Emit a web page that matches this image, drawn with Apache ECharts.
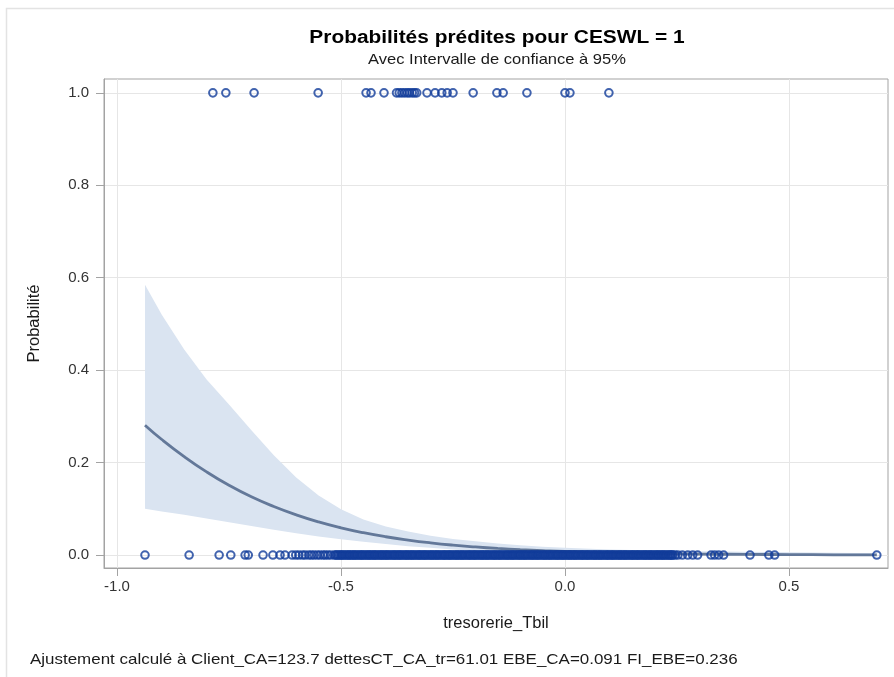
<!DOCTYPE html>
<html>
<head>
<meta charset="utf-8">
<script src="https://cdn.jsdelivr.net/npm/echarts@6/dist/echarts.min.js"></script>
<style>html,body{margin:0;padding:0;background:#fff}#c{width:894px;height:677px}</style>
</head>
<body>
<div id="c"></div>
<script>
// ---- data ----
const xTicks = [-1.0, -0.5, 0.0, 0.5];
const yTicks = [0.0, 0.2, 0.4, 0.6, 0.8, 1.0];

// observations with CESWL = 1 (plotted at probability 1)
const obsOne = [-0.786, -0.757, -0.694, -0.551, -0.444, -0.433, -0.404, -0.376, -0.370, -0.364, -0.358,
  -0.352, -0.347, -0.341, -0.336, -0.331, -0.308, -0.290, -0.275, -0.263, -0.250, -0.205, -0.152,
  -0.138, -0.085, 0.000, 0.011, 0.098];

// observations with CESWL = 0 (plotted at probability 0)
const obsZero = [-0.9375, -0.839, -0.772, -0.746, -0.714, -0.707, -0.674, -0.652, -0.636, -0.625,
  -0.609, -0.601, -0.594, -0.586, -0.580, -0.572, -0.566, -0.560, -0.553, -0.547, -0.540, -0.535,
  -0.529, -0.523, -0.515, -0.509, -0.503, -0.498, -0.492, -0.486, -0.481, -0.475, -0.470, -0.464,
  -0.458, -0.453, -0.447, -0.441, -0.436, -0.430, -0.425, -0.419, -0.413, -0.408, -0.402, -0.397,
  -0.391, -0.385, -0.380, -0.374, -0.369, -0.363, -0.357, -0.352, -0.346, -0.341, -0.335, -0.329,
  -0.324, -0.318, -0.313, -0.307, -0.301, -0.296, -0.290, -0.285, -0.279, -0.273, -0.268, -0.262,
  -0.257, -0.251, -0.245, -0.240, -0.234, -0.229, -0.223, -0.217, -0.212, -0.206, -0.201, -0.195,
  -0.189, -0.184, -0.178, -0.173, -0.167, -0.161, -0.156, -0.150, -0.145, -0.139, -0.133, -0.128,
  -0.122, -0.117, -0.111, -0.105, -0.100, -0.094, -0.089, -0.083, -0.077, -0.072, -0.066, -0.061,
  -0.055, -0.049, -0.044, -0.038, -0.033, -0.027, -0.021, -0.016, -0.010, -0.005, 0.001, 0.007,
  0.012, 0.018, 0.023, 0.029, 0.035, 0.040, 0.046, 0.051, 0.057, 0.063, 0.068, 0.074, 0.079, 0.085,
  0.091, 0.096, 0.102, 0.107, 0.113, 0.119, 0.124, 0.130, 0.135, 0.141, 0.147, 0.152, 0.158, 0.163,
  0.169, 0.175, 0.180, 0.186, 0.191, 0.197, 0.203, 0.208, 0.214, 0.219, 0.225, 0.231, 0.236, 0.241,
  0.246, 0.252, 0.262, 0.274, 0.285, 0.296, 0.326, 0.334, 0.343, 0.354, 0.413, 0.455, 0.468, 0.696,
  -0.512, -0.506, -0.500, -0.495, -0.489, -0.483, -0.478, -0.472, -0.467, -0.461, -0.455, -0.450,
  -0.444, -0.438, -0.433, -0.427, -0.422, -0.416, -0.410, -0.405, -0.399, -0.394, -0.388, -0.382,
  -0.377, -0.371, -0.366, -0.360, -0.354, -0.349, -0.343, -0.338, -0.332, -0.326, -0.321, -0.315,
  -0.310, -0.304, -0.298, -0.293, -0.287, -0.282, -0.276, -0.270, -0.265, -0.259, -0.254, -0.248,
  -0.242, -0.237, -0.231, -0.226, -0.220, -0.214, -0.209, -0.203, -0.198, -0.192, -0.186, -0.181,
  -0.175, -0.170, -0.164, -0.158, -0.153, -0.147, -0.142, -0.136, -0.130, -0.125, -0.119, -0.114,
  -0.108, -0.102, -0.097, -0.091, -0.086, -0.080, -0.074, -0.069, -0.063, -0.058, -0.052, -0.046,
  -0.041, -0.035, -0.030, -0.024, -0.018, -0.013, -0.007, -0.002, 0.004, 0.010, 0.015, 0.021,
  0.026, 0.032, 0.038, 0.043, 0.049, 0.054, 0.060, 0.066, 0.071, 0.077, 0.082, 0.088, 0.094, 0.099,
  0.105, 0.110, 0.116, 0.122, 0.127, 0.133, 0.138, 0.144, 0.150, 0.155, 0.161, 0.166, 0.172, 0.178,
  0.183, 0.189, 0.194, 0.200, 0.206, 0.211, 0.217, 0.222, 0.228, 0.234, 0.239];

// predicted probability curve and 95% confidence limits
const fitX  = [-0.9375, -0.9, -0.85, -0.8, -0.75, -0.7, -0.65, -0.6, -0.55, -0.5, -0.45, -0.4, -0.35,
  -0.3, -0.25, -0.2, -0.15, -0.1, -0.05, 0.0, 0.1, 0.2, 0.3, 0.4, 0.5, 0.6, 0.696];
const fitP  = [0.281, 0.250, 0.213, 0.180, 0.151, 0.126, 0.105, 0.087, 0.0717, 0.059, 0.0484, 0.0396,
  0.0324, 0.0264, 0.0215, 0.0176, 0.0143, 0.0116, 0.0095, 0.0077, 0.0051, 0.0034, 0.0022, 0.0015,
  0.0010, 0.0006, 0.0004];
const upperP = [0.585, 0.520, 0.445, 0.380, 0.326, 0.270, 0.216, 0.168, 0.129, 0.099, 0.077, 0.062,
  0.051, 0.042, 0.035, 0.030, 0.025, 0.021, 0.018, 0.016, 0.012, 0.010, 0.008, 0.007, 0.006, 0.005, 0.004];
const lowerP = [0.100, 0.094, 0.087, 0.079, 0.071, 0.063, 0.055, 0.047, 0.040, 0.034, 0.029, 0.024,
  0.019, 0.016, 0.012, 0.009, 0.007, 0.005, 0.0035, 0.0025, 0.0013, 0.0006, 0.0003, 0.0002, 0.0001,
  0.00005, 0.00003];

const titleText = 'Probabilités prédites pour CESWL = 1';
const subtitleText = 'Avec Intervalle de confiance à 95%';
const xName = 'tresorerie_Tbil';
const yName = 'Probabilité';
const footText = 'Ajustement calculé à Client_CA=123.7 dettesCT_CA_tr=61.01 EBE_CA=0.091 FI_EBE=0.236';

// ---- chart ----
const FONT = '"Liberation Sans", Arial, sans-serif';
const chart = echarts.init(document.getElementById('c'), null, {renderer: 'canvas'});

function txt(text, x, y, size, weight, color, align, sx) {
  return {
    type: 'text', x: x, y: y, scaleX: sx, scaleY: 1, silent: true, z: 10,
    style: {
      text: text, fontFamily: FONT, fontSize: size, fontWeight: weight, fill: color,
      align: align, verticalAlign: 'middle', textAlign: align, textVerticalAlign: 'middle'
    }
  };
}

chart.setOption({
  animation: false,
  backgroundColor: '#ffffff',
  textStyle: {fontFamily: FONT},
  graphic: [
    {type: 'rect', shape: {x: 6.5, y: 8.5, width: 900, height: 700}, silent: true,
     style: {fill: 'none', stroke: '#e3e3e3', lineWidth: 1.5}, z: -10},
    txt(titleText, 497, 38, 18, 'bold', '#000', 'center', 1.16),
    txt(subtitleText, 497, 60, 14.5, 'normal', '#1a1a1a', 'center', 1.14),
    txt(footText, 30, 660, 15, 'normal', '#1a1a1a', 'left', 1.13)
  ],
  grid: {left: 104, top: 79, width: 784, height: 489, show: true,
         borderColor: '#a3a3a3', borderWidth: 1, backgroundColor: '#fff'},
  xAxis: {
    type: 'value', min: -1.029, max: 0.721,
    name: xName, nameLocation: 'middle', nameGap: 47,
    nameTextStyle: {fontFamily: FONT, fontSize: 16.5, color: '#1a1a1a'},
    axisLine: {show: true, onZero: false, lineStyle: {color: '#a3a3a3', width: 1}},
    axisTick: {show: true, length: 8, lineStyle: {color: '#a3a3a3'}, customValues: xTicks},
    splitLine: {show: true, lineStyle: {color: '#e6e6e6', width: 1}},
    axisLabel: {customValues: xTicks, margin: 11, fontSize: 15, color: '#333', fontFamily: FONT,
                formatter: v => v.toFixed(1)}
  },
  yAxis: {
    type: 'value', min: -0.028, max: 1.030,
    name: yName, nameLocation: 'middle', nameGap: 61, nameRotate: 90,
    nameTextStyle: {fontFamily: FONT, fontSize: 16.5, color: '#1a1a1a'},
    axisLine: {show: true, onZero: false, lineStyle: {color: '#a3a3a3', width: 1}},
    axisTick: {show: true, length: 8, lineStyle: {color: '#a3a3a3'}, customValues: yTicks},
    splitLine: {show: true, lineStyle: {color: '#e6e6e6', width: 1}},
    axisLabel: {customValues: yTicks, margin: 15, fontSize: 15, color: '#333', fontFamily: FONT,
                formatter: v => v.toFixed(1)}
  },
  series: [
    {
      type: 'custom', name: 'band', z: 1, silent: true,
      data: [0],
      renderItem: function (params, api) {
        const pts = [];
        for (let i = 0; i < fitX.length; i++) pts.push(api.coord([fitX[i], upperP[i]]));
        for (let i = fitX.length - 1; i >= 0; i--) pts.push(api.coord([fitX[i], lowerP[i]]));
        return {type: 'polygon', shape: {points: pts}, style: {fill: '#dae4f1'}};
      }
    },
    {
      type: 'line', name: 'fit', z: 3, smooth: true, showSymbol: false, symbol: 'none',
      data: fitX.map((x, i) => [x, fitP[i]]),
      lineStyle: {color: '#637899', width: 2.8}
    },
    {
      type: 'scatter', name: 'obs1', z: 4, symbol: 'circle', symbolSize: 7.6,
      data: obsOne.map(x => [x, 1]),
      itemStyle: {color: 'rgba(0,0,0,0)', borderColor: '#123c9a', borderWidth: 2}
    },
    {
      type: 'scatter', name: 'obs0', z: 4, symbol: 'circle', symbolSize: 7.6,
      data: obsZero.map(x => [x, 0]),
      itemStyle: {color: 'rgba(0,0,0,0)', borderColor: '#123c9a', borderWidth: 2}
    }
  ]
});
</script>
</body>
</html>
